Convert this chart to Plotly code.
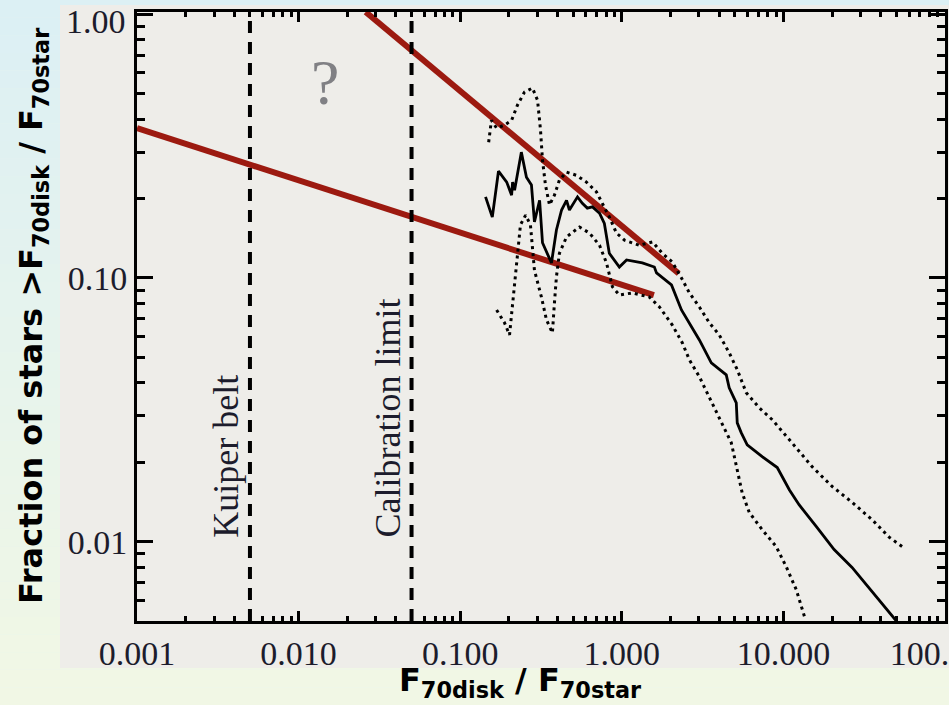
import plotly.graph_objects as go
import numpy as np

# ---------------- data ----------------
x_tick_vals = [0.001, 0.01, 0.1, 1, 10, 100]
x_tick_text = ["0.001", "0.010", "0.100", "1.000", "10.000", "100.000"]
y_tick_vals = [0.01, 0.1, 1.0]
y_tick_text = ["0.01", "0.10", ""]
y_top_label = "1.00"

solid_x = [0.1435, 0.158, 0.1725, 0.194, 0.208, 0.211, 0.217, 0.239, 0.257, 0.276, 0.288, 0.310,
           0.323, 0.367, 0.394, 0.424, 0.455, 0.474, 0.532, 0.570, 0.612, 0.658, 0.728, 0.780,
           0.837, 0.966, 1.07, 1.34, 1.59, 1.64, 2.03, 2.34, 3.02, 3.58, 4.43, 4.62, 5.11, 5.18,
           5.48, 5.97, 7.39, 9.16, 10.9, 12.5, 16.0, 20.6, 26.6, 35.4, 50.0]
solid_y = [0.203, 0.170, 0.254, 0.231, 0.206, 0.231, 0.215, 0.300, 0.241, 0.225, 0.163, 0.197,
           0.136, 0.114, 0.152, 0.181, 0.197, 0.181, 0.203, 0.192, 0.184, 0.186, 0.176, 0.161,
           0.124, 0.110, 0.117, 0.114, 0.110, 0.1045, 0.0941, 0.0756, 0.0582, 0.0476, 0.0429,
           0.0383, 0.0336, 0.0282, 0.0259, 0.0233, 0.0210, 0.0191, 0.0157, 0.0138, 0.0114,
           0.00933, 0.00798, 0.00647, 0.0050]

upper_x = [0.150, 0.156, 0.168, 0.188, 0.208, 0.226, 0.250, 0.280, 0.301, 0.314, 0.323, 0.337,
           0.357, 0.383, 0.411, 0.455, 0.524, 0.604, 0.697, 0.759, 0.838, 0.927, 1.04, 1.28,
           1.55, 1.78, 2.05, 2.34, 2.62, 3.02, 3.48, 4.01, 4.62, 5.18, 5.89, 7.08, 8.53, 11.3,
           15.1, 20.0, 26.6, 35.4, 45.1, 56.6]
upper_y = [0.327, 0.396, 0.370, 0.380, 0.396, 0.452, 0.507, 0.525, 0.472, 0.364, 0.280, 0.225,
           0.189, 0.206, 0.235, 0.252, 0.245, 0.231, 0.212, 0.192, 0.170, 0.148, 0.139, 0.133,
           0.137, 0.124, 0.115, 0.100, 0.0877, 0.0776, 0.0676, 0.0608, 0.0520, 0.0449, 0.0367,
           0.0322, 0.0290, 0.0237, 0.0192, 0.0162, 0.0141, 0.0121, 0.0104, 0.0094]

lower_x = [0.168, 0.188, 0.202, 0.211, 0.217, 0.226, 0.236, 0.254, 0.272, 0.288, 0.318, 0.342,
           0.372, 0.383, 0.394, 0.411, 0.455, 0.547, 0.631, 0.728, 0.804, 0.875, 0.966, 1.16,
           1.48, 1.71, 2.05, 2.37, 2.62, 3.02, 3.48, 4.01, 4.76, 5.18, 5.56, 6.15, 7.39, 9.02,
           10.4, 12.0, 13.5]
lower_y = [0.0756, 0.0676, 0.0608, 0.0804, 0.0983, 0.124, 0.159, 0.173, 0.159, 0.107, 0.0847,
           0.0693, 0.0619, 0.0804, 0.101, 0.124, 0.143, 0.156, 0.148, 0.133, 0.114, 0.0925,
           0.0862, 0.0877, 0.0847, 0.0776, 0.0664, 0.0567, 0.0489, 0.0422, 0.0354, 0.0297,
           0.0237, 0.0187, 0.0153, 0.0129, 0.0111, 0.00958, 0.00804, 0.00658, 0.00520]

red_shallow_x = [0.001, 1.58]
red_shallow_y = [0.37, 0.086]
red_steep_x = [0.026, 2.25]
red_steep_y = [1.02, 0.104]

kuiper_x = 0.005
calib_x = 0.05
y_min, y_max = 0.005, 1.02

# ---------------- figure ----------------
W, H = 949, 705
ML, MR, MT, MB = 137, 4, 12, 84
pw, ph = W - ML - MR, H - MT - MB

fig = go.Figure()

RED = "#9c1a10"
fig.add_trace(go.Scatter(x=red_shallow_x, y=red_shallow_y, mode="lines",
                         line=dict(color=RED, width=6), hoverinfo="skip"))
fig.add_trace(go.Scatter(x=red_steep_x, y=red_steep_y, mode="lines",
                         line=dict(color=RED, width=6), hoverinfo="skip"))

for vx in (kuiper_x, calib_x):
    fig.add_trace(go.Scatter(x=[vx, vx], y=[y_min, y_max], mode="lines",
                             line=dict(color="black", width=4, dash="12px,9px"), hoverinfo="skip"))

fig.add_trace(go.Scatter(x=upper_x, y=upper_y, mode="lines",
                         line=dict(color="black", width=3, dash="3px,4px"), hoverinfo="skip"))
fig.add_trace(go.Scatter(x=lower_x, y=lower_y, mode="lines",
                         line=dict(color="black", width=3, dash="3px,4px"), hoverinfo="skip"))
fig.add_trace(go.Scatter(x=solid_x, y=solid_y, mode="lines",
                         line=dict(color="black", width=2.8), hoverinfo="skip"))

TICKFONT = dict(family="Liberation Serif", size=34, color="#1c1c2c")

fig.update_xaxes(type="log", range=[np.log10(0.001), np.log10(100)], automargin=False,
                 showline=True, linewidth=3, linecolor="black", mirror="ticks",
                 ticks="inside", ticklen=10, tickwidth=3, tickcolor="black",
                 tickvals=x_tick_vals, ticktext=x_tick_text, tickfont=TICKFONT,
                 ticklabeloverflow="allow",
                 showgrid=False, zeroline=False,
                 minor=dict(ticks="inside", ticklen=5, tickwidth=3, tickcolor="black",
                            showgrid=False, dtick="D1"))
fig.update_yaxes(type="log", range=[np.log10(y_min), np.log10(y_max)], automargin=False,
                 showline=True, linewidth=3, linecolor="black", mirror="ticks",
                 ticks="inside", ticklen=16, tickwidth=3, tickcolor="black",
                 tickvals=y_tick_vals, ticktext=y_tick_text, tickfont=TICKFONT,
                 ticklabeloverflow="allow",
                 showgrid=False, zeroline=False,
                 minor=dict(ticks="inside", ticklen=8, tickwidth=3, tickcolor="black",
                            showgrid=False, dtick="D1"))

# background: page gradient + chart "paper" panel
shapes = []
nb = 40
top_c = np.array([0xDC, 0xF0, 0xF5])
bot_c = np.array([0xF2, 0xF8, 0xE5])
for i in range(nb):
    t = (i + 0.5) / nb
    c = (top_c * (1 - t) + bot_c * t).astype(int)
    y0px = H * i / nb
    y1px = H * (i + 1) / nb
    shapes.append(dict(type="rect", xref="paper", yref="paper", layer="below",
                       x0=-ML / pw, x1=(W - ML) / pw,
                       y0=(H - MB - y1px) / ph, y1=(H - MB - y0px) / ph,
                       line=dict(width=0), fillcolor="rgb(%d,%d,%d)" % tuple(c)))
shapes.append(dict(type="rect", xref="paper", yref="paper", layer="below",
                   x0=(60 - ML) / pw, x1=(W - ML) / pw,
                   y0=(H - MB - 668) / ph, y1=(H - MB - 5) / ph,
                   line=dict(width=0), fillcolor="#EEEDE9"))

ann = []
# top y tick label, nudged inside the picture as in the original
ann.append(dict(x=(128 - ML) / pw, y=(H - MB - 22) / ph, xref="paper", yref="paper",
                text=y_top_label, showarrow=False, xanchor="right", yanchor="middle",
                font=TICKFONT))
ann.append(dict(x=np.log10(0.0145), y=np.log10(0.55), xref="x", yref="y", text="?",
                showarrow=False, font=dict(family="Liberation Serif", size=64, color="#808084")))
ann.append(dict(x=np.log10(0.00355), y=np.log10(0.0102), xref="x", yref="y", text="Kuiper belt",
                textangle=-90, yanchor="bottom", xanchor="center", showarrow=False,
                font=dict(family="Liberation Serif", size=36, color="#1c1c2c")))
ann.append(dict(x=np.log10(0.0356), y=np.log10(0.0102), xref="x", yref="y", text="Calibration limit",
                textangle=-90, yanchor="bottom", xanchor="center", showarrow=False,
                font=dict(family="Liberation Serif", size=36, color="#1c1c2c")))
# axis titles
ann.append(dict(x=(33 - ML) / pw, y=(H - MB - 316) / ph, xref="paper", yref="paper",
                text="<b>Fraction of stars >F<sub>70disk</sub> / F<sub>70star</sub></b>",
                textangle=-90, showarrow=False, xanchor="center", yanchor="middle",
                font=dict(family="DejaVu Sans", size=32, color="black")))
ann.append(dict(x=(520 - ML) / pw, y=(H - MB - 682) / ph, xref="paper", yref="paper",
                text="<b>F<sub>70disk</sub> / F<sub>70star</sub></b>",
                showarrow=False, xanchor="center", yanchor="middle",
                font=dict(family="DejaVu Sans", size=32, color="black")))

fig.update_layout(width=W, height=H, margin=dict(l=ML, r=MR, t=MT, b=MB, pad=0, autoexpand=False),
                  paper_bgcolor="#E6F4EE", plot_bgcolor="#EEEDE9",
                  showlegend=False, shapes=shapes, annotations=ann)

fig.write_html("out.html", config={"displayModeBar": False},
               post_script="document.body.style.margin='0px';document.body.style.overflow='hidden';")
